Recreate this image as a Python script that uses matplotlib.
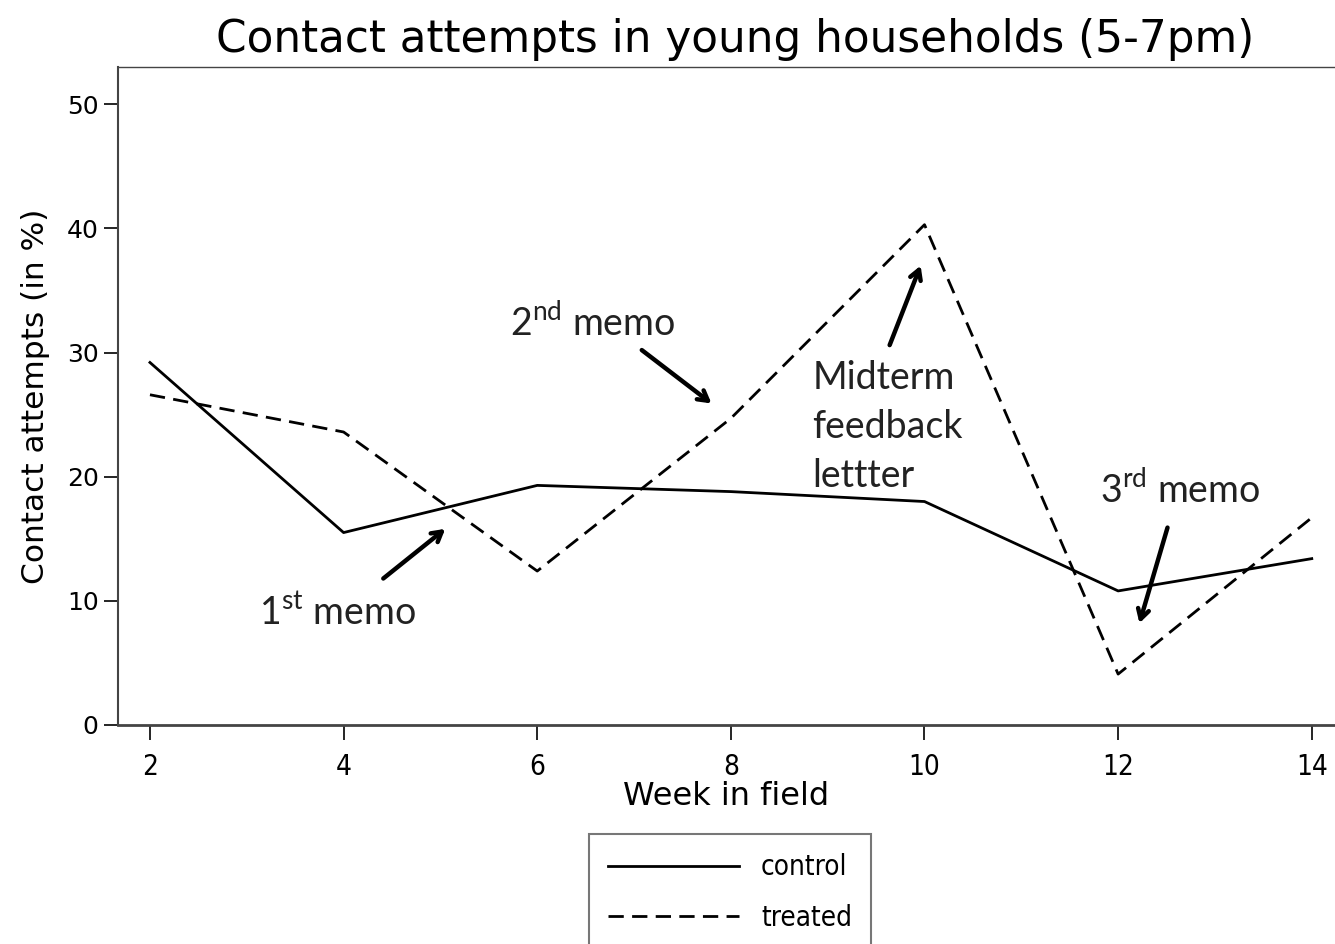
import matplotlib
matplotlib.use("Agg")
import matplotlib.pyplot as plt

# ---- data ----
weeks = [2, 4, 6, 8, 10, 12, 14]
control = [29.2, 15.5, 19.3, 18.8, 18.0, 10.8, 13.4]
treated = [26.6, 23.6, 12.4, 24.7, 40.3, 4.1, 16.7]
yticks = [0, 10, 20, 30, 40, 50]

# annotations: label, text position, arrow start, arrow tip (data coords)
notes = [
    (r"1$^{\mathrm{st}}$ memo", (3.13, 9.0), (4.41, 11.8), (5.05, 15.8)),
    (r"2$^{\mathrm{nd}}$ memo", (5.72, 32.4), (7.08, 30.2), (7.80, 25.9)),
    ("Midterm\nfeedback\nlettter", (8.84, 24.0), (9.64, 30.6), (9.96, 37.0)),
    (r"3$^{\mathrm{rd}}$ memo", (11.81, 19.0), (12.51, 15.9), (12.22, 8.2)),
]

ANNOT_FONT = "Lato"
NARROW = ["Liberation Sans Narrow", "DejaVu Sans"]
plt.rcParams.update({
    "font.family": "DejaVu Sans",
    "mathtext.fontset": "custom",
    "mathtext.rm": ANNOT_FONT,
    "axes.edgecolor": "#444444",
})

fig = plt.figure(figsize=(13.35, 9.44), dpi=100)
ax = fig.add_axes([0.0884, 0.232, 0.9116, 0.697])

ax.plot(weeks, control, color="black", lw=2.0, label="control")
ax.plot(weeks, treated, color="black", lw=2.0, dashes=(5.5, 3), label="treated")

ax.set_xlim(1.67, 14.24)
ax.set_ylim(0, 53)
ax.set_xticks(weeks)
ax.set_yticks(yticks)
ax.spines["right"].set_visible(False)
ax.spines["bottom"].set_linewidth(2)
ax.spines["left"].set_linewidth(1.5)
ax.spines["top"].set_linewidth(1.0)
ax.tick_params(axis="y", direction="out", length=10, width=1.2, labelsize=18, pad=4)
ax.tick_params(axis="x", direction="out", length=11, width=1.2, labelsize=20, pad=9)
for lab in ax.get_xticklabels():
    lab.set_family(NARROW)
    lab.set_fontstretch("condensed")

ax.set_xlabel("Week in field", fontsize=23, labelpad=0)
ax.set_ylabel("Contact attempts (in %)", fontsize=22.5, labelpad=12)
fig.text(0.551, 0.958, "Contact attempts in young households (5-7pm)",
         ha="center", va="center", fontsize=31.5)

for label, txt, start, tip in notes:
    ax.text(txt[0], txt[1], label, fontsize=27, family=ANNOT_FONT,
            ha="left", va="center", linespacing=1.45, color="#222222")
    ax.annotate("", xy=tip, xytext=start,
                arrowprops=dict(arrowstyle="->,head_length=0.7,head_width=0.4",
                                lw=3.2, color="black", shrinkA=0, shrinkB=0))

leg = fig.legend(loc="upper left", bbox_to_anchor=(0.441, 0.1165),
                 fontsize=20, frameon=True, fancybox=False, edgecolor="#555555",
                 handlelength=4.7, handletextpad=0.8, borderpad=0.7,
                 labelspacing=0.8, borderaxespad=0)
leg.get_frame().set_linewidth(1.5)
for t in leg.get_texts():
    t.set_family(NARROW)
    t.set_fontstretch("condensed")

fig.savefig("out.png", dpi=100)
